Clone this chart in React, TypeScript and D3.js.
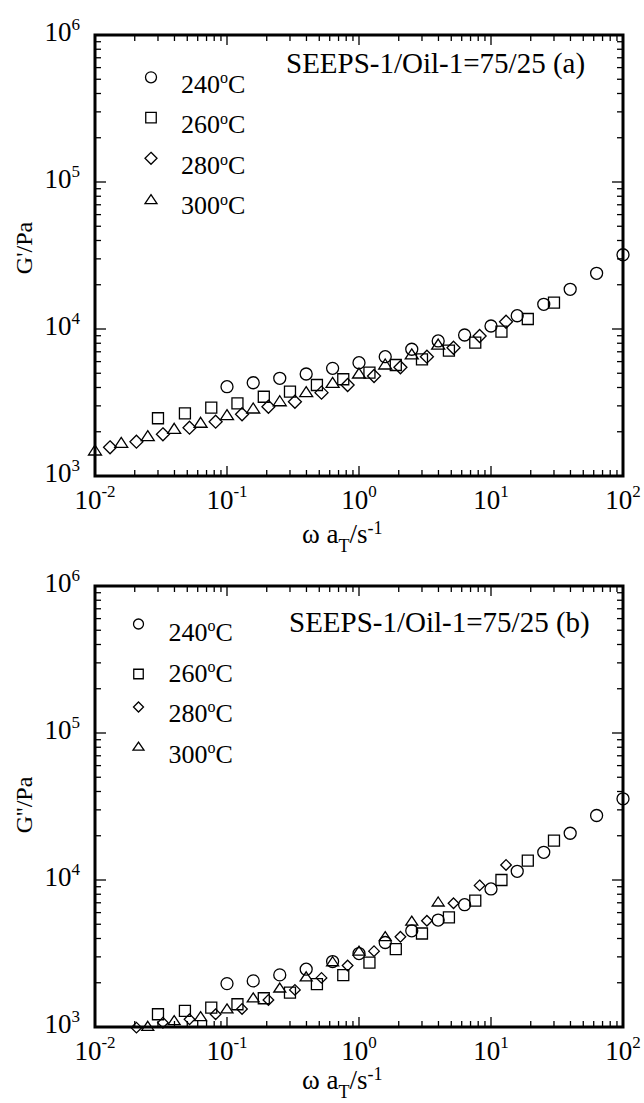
import React, { useEffect, useRef } from "react";
import * as d3 from "d3";

// shifted frequency (omega a_T, s^-1) for each temperature
const w240 = [0.1, 0.158, 0.251, 0.398, 0.631, 1, 1.58, 2.51, 3.98, 6.31, 10, 15.8, 25.1, 39.8, 63.1, 100];
const w260 = [0.03, 0.048, 0.076, 0.12, 0.19, 0.3, 0.48, 0.76, 1.2, 1.9, 3.0, 4.8, 7.6, 12, 19, 30];
const w280 = [0.013, 0.0206, 0.0327, 0.052, 0.082, 0.13, 0.206, 0.327, 0.52, 0.82, 1.3, 2.06, 3.27, 5.2, 8.2, 13];
const w300 = [0.01, 0.0158, 0.0251, 0.0398, 0.0631, 0.1, 0.158, 0.251, 0.398, 0.631, 1, 1.58, 2.51, 3.98];
const w280b = [0.0206, 0.0327, 0.052, 0.082, 0.13, 0.206, 0.327, 0.52, 0.82, 1.3, 2.06, 3.27, 5.2, 8.2, 13];
const w300b = [0.0251, 0.0398, 0.0631, 0.1, 0.158, 0.251, 0.398, 0.631, 1, 1.58, 2.51, 3.98];

// G' (Pa)
const gp240 = [4050, 4310, 4620, 4940, 5400, 5900, 6480, 7280, 8290, 9100, 10480, 12310, 14720, 18620, 23920, 32000];
const gp260 = [2470, 2670, 2915, 3120, 3460, 3750, 4160, 4550, 5050, 5690, 6220, 7120, 8070, 9590, 11700, 15100];
const gp280 = [1567, 1712, 1921, 2131, 2341, 2630, 2960, 3200, 3690, 4160, 4790, 5490, 6480, 7460, 8960, 11210];
const gp300 = [1479, 1668, 1851, 2078, 2284, 2572, 2856, 3200, 3690, 4270, 4940, 5690, 6660, 7780];

// G'' (Pa)
const gpp240 = [1973, 2059, 2262, 2473, 2788, 3160, 3758, 4512, 5340, 6790, 8690, 11460, 15430, 20800, 27460, 35680];
const gpp260 = [1221, 1286, 1354, 1428, 1569, 1714, 1955, 2252, 2745, 3388, 4326, 5560, 7230, 10000, 13550, 18540];
const gpp280 = [990, 1070, 1128, 1221, 1327, 1528, 1788, 2158, 2618, 3281, 4108, 5281, 6950, 9192, 12660];
const gpp300 = [1005, 1099, 1170, 1320, 1569, 1830, 2182, 2761, 3262, 4089, 5224, 7040];

const temps = ["240", "260", "280", "300"];
const shapes = ["circle", "square", "diamond", "triangle"];
const xMajor = [-2, -1, 0, 1, 2];
const yMajor = [3, 4, 5, 6];

const font = "'Liberation Serif', 'DejaVu Serif', serif";

function markerPath(shape, cx, cy, s) {
  const p = d3.path();
  if (shape === "circle") {
    p.moveTo(cx + s.r, cy);
    p.arc(cx, cy, s.r, 0, 2 * Math.PI);
  } else if (shape === "square") {
    p.rect(cx - s.sq / 2, cy - s.sq / 2, s.sq, s.sq);
  } else if (shape === "diamond") {
    p.moveTo(cx, cy - s.d);
    p.lineTo(cx + s.d, cy);
    p.lineTo(cx, cy + s.d);
    p.lineTo(cx - s.d, cy);
    p.closePath();
  } else {
    p.moveTo(cx, cy - s.th * 0.6);
    p.lineTo(cx + s.tw, cy + s.th * 0.4);
    p.lineTo(cx - s.tw, cy + s.th * 0.4);
    p.closePath();
  }
  return p.toString();
}

function drawPanel(svg, o) {
  const left = 95, right = 623;
  const top = o.top, bottom = o.top + 441;
  const x = d3.scaleLog().domain([1e-2, 1e2]).range([left, right]);
  const y = d3.scaleLog().domain([1e3, 1e6]).range([bottom, top]);
  const g = svg.append("g").style("font-family", font);

  // ticks
  const tk = g.append("g").attr("stroke", "#000").attr("stroke-width", 1.3);
  x.ticks().forEach((v) => {
    const major = Math.abs(Math.log10(v) - Math.round(Math.log10(v))) < 1e-6;
    const len = major ? 10 : 6;
    tk.append("line").attr("x1", x(v)).attr("x2", x(v)).attr("y1", bottom).attr("y2", bottom - len);
    tk.append("line").attr("x1", x(v)).attr("x2", x(v)).attr("y1", top).attr("y2", top + len);
  });
  y.ticks().forEach((v) => {
    const major = Math.abs(Math.log10(v) - Math.round(Math.log10(v))) < 1e-6;
    const len = major ? 11 : 6;
    tk.append("line").attr("y1", y(v)).attr("y2", y(v)).attr("x1", left).attr("x2", left + len);
    tk.append("line").attr("y1", y(v)).attr("y2", y(v)).attr("x1", right).attr("x2", right - len);
  });

  g.append("rect")
    .attr("x", left).attr("y", top)
    .attr("width", right - left).attr("height", bottom - top)
    .attr("fill", "none").attr("stroke", "#000").attr("stroke-width", 3);

  // tick labels
  xMajor.forEach((e) => {
    const t = g.append("text")
      .attr("x", x(Math.pow(10, e))).attr("y", bottom + 33)
      .attr("text-anchor", "middle").style("font-size", "27px");
    t.append("tspan").text("10");
    t.append("tspan").style("font-size", "17px").attr("dy", -12).text(e);
  });
  yMajor.forEach((e) => {
    const t = g.append("text")
      .attr("x", 80).attr("y", y(Math.pow(10, e)) + 5.5)
      .attr("text-anchor", "end").style("font-size", "27px");
    t.append("tspan").text("10");
    t.append("tspan").style("font-size", "17px").attr("dy", -11).text(e);
  });

  // axis titles
  const xt = g.append("text")
    .attr("x", 302).attr("y", bottom + o.xTitleOff)
    .style("font-size", "27px");
  xt.append("tspan").text("\u03c9 a");
  xt.append("tspan").style("font-size", "18px").attr("dy", 9).text("T");
  xt.append("tspan").attr("dy", -9).text("/s");
  xt.append("tspan").style("font-size", "18px").attr("dy", -9).text("-1");

  g.append("text")
    .attr("transform", `translate(32,${o.titleY}) rotate(-90)`)
    .attr("text-anchor", "middle").style("font-size", "24px")
    .text(o.yTitle);

  // data
  o.series.forEach((s, i) => {
    g.append("g").selectAll("path")
      .data(s.w.map((w, j) => [w, s.v[j]]))
      .enter().append("path")
      .attr("d", (d) => markerPath(shapes[i], x(d[0]), y(d[1]), o.size))
      .attr("fill", "none").attr("stroke", "#000").attr("stroke-width", 1.3);
  });

  // legend
  temps.forEach((t, i) => {
    g.append("path")
      .attr("d", markerPath(shapes[i], o.legX, top + o.legMarkY[i], o.legSize))
      .attr("fill", "none").attr("stroke", "#000").attr("stroke-width", 1.3);
    const tx = g.append("text")
      .attr("x", o.legX + 30).attr("y", top + o.legTextY[i])
      .style("font-size", "26px");
    tx.append("tspan").text(t);
    tx.append("tspan").style("font-size", "16px").attr("dy", -9.5).text("o");
    tx.append("tspan").attr("dy", 9.5).text("C");
  });

  g.append("text")
    .attr("x", o.annX).attr("y", top + o.annY)
    .style("font-size", "29px")
    .text(o.annot);
}

export default function App() {
  const ref = useRef(null);
  useEffect(() => {
    const svg = d3.select(ref.current);
    svg.selectAll("*").remove();
    drawPanel(svg, {
      top: 35,
      yTitle: "G'/Pa",
      titleY: 248,
      xTitleOff: 67,
      annot: "SEEPS-1/Oil-1=75/25 (a)",
      annX: 286, annY: 38.3,
      legX: 151,
      legMarkY: [42.3, 82.7, 123.3, 165],
      legTextY: [57.7, 98.3, 139, 179],
      size: { r: 6, sq: 11, d: 6.5, tw: 6.5, th: 10 },
      legSize: { r: 5.5, sq: 10.5, d: 6, tw: 6, th: 9 },
      series: [
        { w: w240, v: gp240 },
        { w: w260, v: gp260 },
        { w: w280, v: gp280 },
        { w: w300, v: gp300 },
      ],
    });
    drawPanel(svg, {
      top: 586,
      yTitle: "G''/Pa",
      titleY: 805,
      xTitleOff: 62,
      annot: "SEEPS-1/Oil-1=75/25 (b)",
      annX: 289, annY: 46,
      legX: 138.5,
      legMarkY: [38, 88, 121, 161],
      legTextY: [54.7, 95.7, 135.7, 176.7],
      size: { r: 6, sq: 11, d: 5.3, tw: 6, th: 9 },
      legSize: { r: 5, sq: 9.5, d: 5, tw: 5.5, th: 8 },
      series: [
        { w: w240, v: gpp240 },
        { w: w260, v: gpp260 },
        { w: w280b, v: gpp280 },
        { w: w300b, v: gpp300 },
      ],
    });
  }, []);
  return (
    <svg
      ref={ref}
      width={644}
      height={1103}
      style={{ position: "absolute", left: 0, top: 0, background: "#fff" }}
    />
  );
}
